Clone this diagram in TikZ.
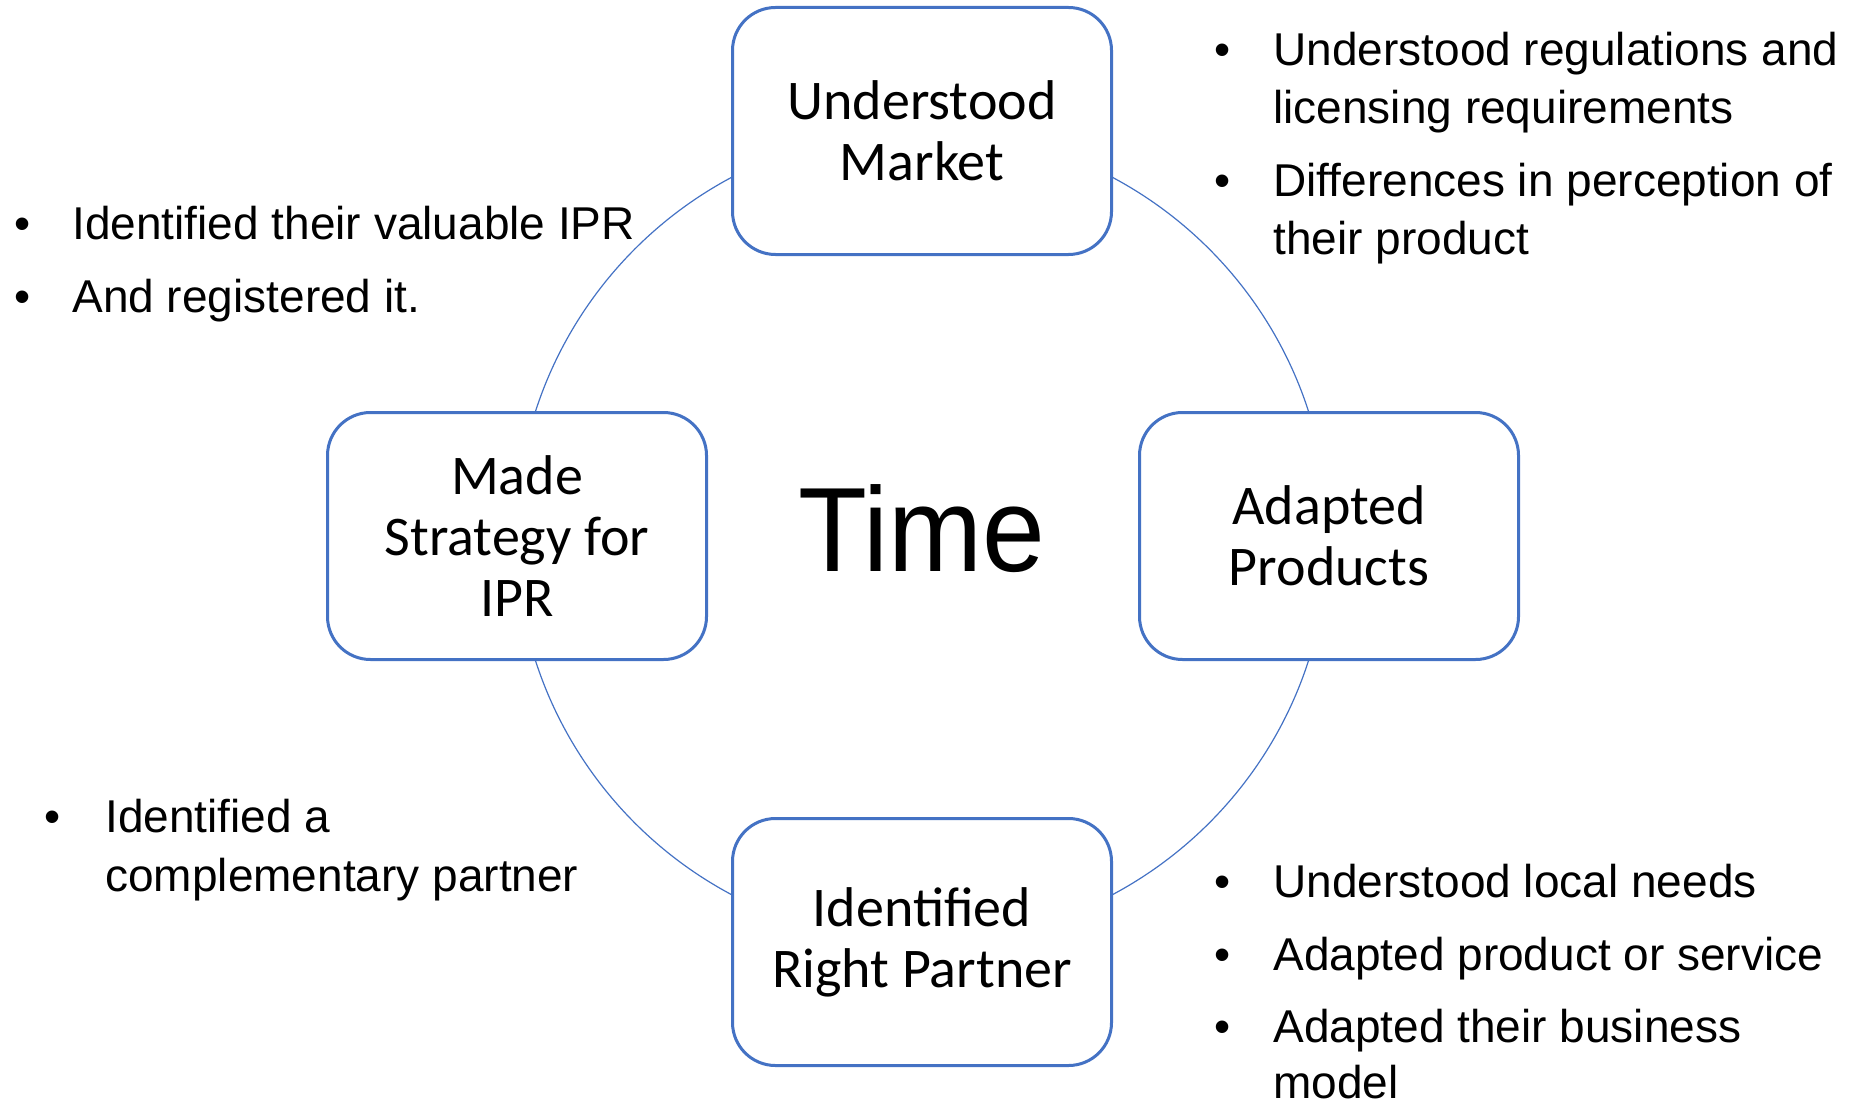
\documentclass[tikz,border=0pt]{standalone}
\usepackage{fontspec}
\setmainfont{Liberation Sans}
\newfontfamily\boxfont{Carlito}
\newfontfamily\notefont{Liberation Sans}
\newfontfamily\timefont[FakeStretch=0.94]{Liberation Sans}
\definecolor{accent}{RGB}{68,114,196}
\begin{document}
\begin{tikzpicture}[x=0.5pt,y=-0.5pt,
  stagebox/.style={draw=accent, line width=1.5pt, fill=white, rounded corners=21.5pt,
    minimum width=189.5pt, minimum height=123.5pt, inner sep=0pt, align=center,
    font=\boxfont\fontsize{28}{30.5}\selectfont},
  ring/.style={circle, draw=accent, line width=0.6pt, minimum size=406pt, inner sep=0pt},
  dot/.style={anchor=base, inner sep=0pt, font=\notefont\fontsize{23}{27.5}\selectfont},
  note/.style={anchor=base west, inner sep=0pt, font=\notefont\fontsize{23}{27.5}\selectfont},
  centre/.style={anchor=base, inner sep=0pt, font=\timefont\fontsize{60}{70}\selectfont}]
  \useasboundingbox (0,0) rectangle (1855,1107);

  % cycle ring behind the four stages
  \node[ring] (cycle) at (922,536) {};

  % four stages
  \node[stagebox] (market)   at (922,131)  {Understood\\Market};
  \node[stagebox] (adapted)  at (1329,536) {Adapted\\Products};
  \node[stagebox] (partner)  at (922,942)  {Identified\\Right Partner};
  \node[stagebox] (strategy) at (517,536)  {Made\\Strategy for\\IPR};

  % centre word
  \node[centre] (time) at (922,571) {Time};

  % notes, upper left
  \node[dot]  (ul1d) at (23,240) {•};
  \node[note] (ul1)  at (72,240) {Identified their valuable IPR};
  \node[dot]  (ul2d) at (23,312) {•};
  \node[note] (ul2)  at (72,312) {And registered it.};

  % notes, upper right
  \node[dot]  (ur1d)  at (1223,66)  {•};
  \node[note] (ur1)   at (1273,66)  {Understood regulations and};
  \node[note] (ur1b)  at (1273,124) {licensing requirements};
  \node[dot]  (ur2d)  at (1223,197) {•};
  \node[note] (ur2)   at (1273,197) {Differences in perception of};
  \node[note] (ur2b)  at (1273,254) {their product};

  % notes, lower left
  \node[dot]  (ll1d) at (53,832)  {•};
  \node[note] (ll1)  at (105,832) {Identified a};
  \node[note] (ll1b) at (105,891) {complementary partner};

  % notes, lower right
  \node[dot]  (lr1d) at (1223,897)  {•};
  \node[note] (lr1)  at (1273,897)  {Understood local needs};
  \node[dot]  (lr2d) at (1223,970)  {•};
  \node[note] (lr2)  at (1273,970)  {Adapted product or service};
  \node[dot]  (lr3d) at (1223,1042) {•};
  \node[note] (lr3)  at (1273,1042) {Adapted their business};
  \node[note] (lr3b) at (1273,1098) {model};
\end{tikzpicture}
\end{document}
